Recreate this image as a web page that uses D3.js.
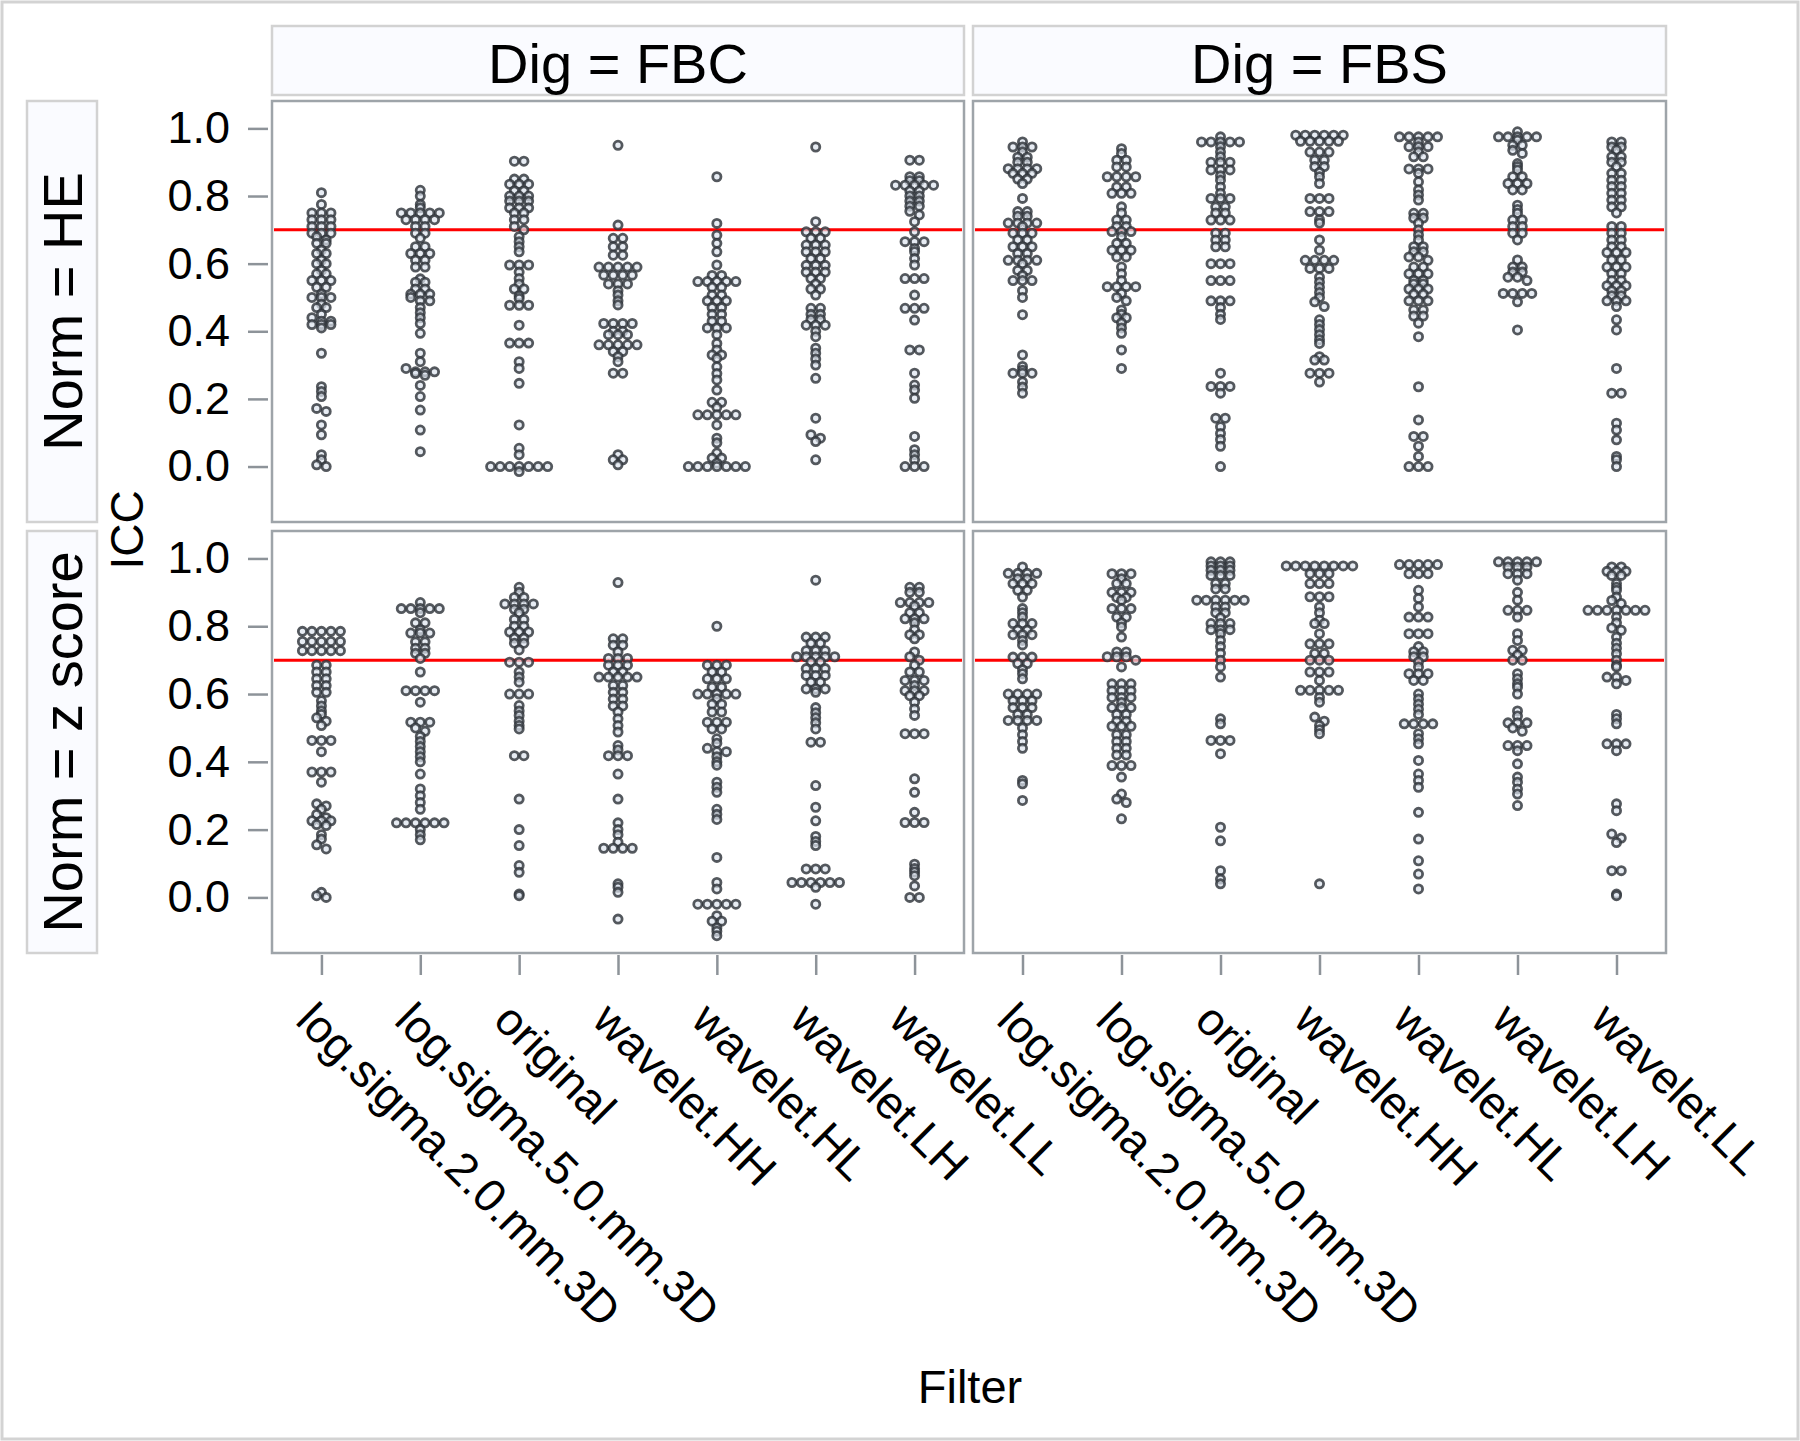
<!DOCTYPE html>
<html><head><meta charset="utf-8">
<script src="https://cdn.jsdelivr.net/npm/d3@7"></script>
<style>
body{margin:0;background:#fff}
text{font-family:"Liberation Sans",Arial,Helvetica,sans-serif;fill:#000}
</style>
</head><body>
<svg id="chart" width="1800" height="1441"></svg>
<script>
// ---------------- DATA ----------------
const filters = ["log.sigma.2.0.mm.3D","log.sigma.5.0.mm.3D","original","wavelet.HH","wavelet.HL","wavelet.LH","wavelet.LL"];
const digLevels = ["FBC","FBS"];
const normLevels = ["HE","z score"];
const yTicks = [0.0,0.2,0.4,0.6,0.8,1.0];
const threshold = 0.7;

// ICC values, one list per filter (order as in `filters`)
const iccHE_FBC = [
 [0.81,0.775,0.75,0.75,0.75,0.73,0.73,0.73,0.71,0.71,0.71,0.69,0.69,0.69,0.68,0.67,0.66,0.66,0.64,0.63,0.63,0.61,0.60,0.60,0.58,0.57,0.57,0.55,0.55,0.55,0.53,0.53,0.51,0.50,0.50,0.50,0.48,0.47,0.47,0.45,0.44,0.43,0.43,0.42,0.42,0.42,0.41,0.335,0.236,0.222,0.207,0.172,0.163,0.123,0.094,0.035,0.02,0.005,0.0],
 [0.817,0.80,0.775,0.765,0.75,0.75,0.75,0.75,0.75,0.73,0.73,0.73,0.73,0.71,0.71,0.69,0.69,0.675,0.65,0.65,0.63,0.63,0.63,0.61,0.61,0.59,0.59,0.555,0.545,0.545,0.525,0.525,0.51,0.51,0.51,0.50,0.49,0.49,0.47,0.455,0.44,0.423,0.394,0.335,0.31,0.29,0.28,0.28,0.28,0.275,0.27,0.24,0.207,0.167,0.108,0.044],
 [0.903,0.903,0.85,0.85,0.835,0.835,0.835,0.815,0.815,0.80,0.80,0.80,0.785,0.785,0.785,0.765,0.765,0.765,0.75,0.75,0.73,0.73,0.71,0.70,0.68,0.665,0.65,0.635,0.596,0.596,0.596,0.575,0.556,0.54,0.525,0.525,0.505,0.497,0.477,0.477,0.477,0.418,0.365,0.365,0.365,0.31,0.29,0.246,0.123,0.054,0.035,0.0,0.0,0.0,0.0,0.0,0.0,0.0,-0.015],
 [0.95,0.714,0.675,0.675,0.65,0.65,0.625,0.625,0.59,0.59,0.59,0.59,0.59,0.566,0.566,0.566,0.566,0.54,0.54,0.54,0.52,0.507,0.49,0.478,0.423,0.423,0.423,0.423,0.40,0.40,0.39,0.39,0.39,0.36,0.36,0.36,0.36,0.36,0.34,0.34,0.325,0.31,0.276,0.276,0.035,0.02,0.02,0.005],
 [0.857,0.719,0.684,0.66,0.635,0.596,0.565,0.565,0.547,0.547,0.547,0.547,0.547,0.53,0.53,0.507,0.507,0.49,0.49,0.49,0.47,0.47,0.45,0.45,0.43,0.43,0.41,0.41,0.41,0.39,0.364,0.345,0.33,0.33,0.32,0.295,0.275,0.256,0.226,0.19,0.19,0.175,0.153,0.153,0.153,0.153,0.153,0.123,0.084,0.07,0.04,0.025,0.025,0.01,0.0,0.0,0.0,0.0,0.0,0.0,0.0],
 [0.945,0.724,0.694,0.694,0.694,0.675,0.675,0.655,0.655,0.655,0.635,0.635,0.635,0.615,0.615,0.595,0.595,0.595,0.575,0.575,0.575,0.556,0.556,0.54,0.525,0.525,0.507,0.468,0.468,0.45,0.45,0.435,0.435,0.418,0.418,0.418,0.40,0.384,0.35,0.335,0.318,0.30,0.261,0.143,0.094,0.084,0.074,0.02],
 [0.906,0.906,0.857,0.857,0.845,0.845,0.832,0.832,0.832,0.832,0.832,0.815,0.815,0.80,0.80,0.785,0.785,0.77,0.77,0.755,0.744,0.724,0.694,0.665,0.665,0.665,0.645,0.635,0.615,0.596,0.556,0.556,0.556,0.507,0.468,0.468,0.468,0.433,0.345,0.345,0.276,0.241,0.226,0.202,0.089,0.05,0.035,0.02,0.0,0.0,0.0]
];
const iccZ_FBC = [
 [0.785,0.785,0.785,0.785,0.785,0.755,0.755,0.755,0.755,0.755,0.728,0.728,0.728,0.728,0.728,0.685,0.685,0.665,0.665,0.645,0.645,0.625,0.625,0.605,0.605,0.58,0.565,0.55,0.54,0.53,0.52,0.507,0.463,0.463,0.463,0.43,0.37,0.37,0.37,0.34,0.276,0.27,0.26,0.245,0.235,0.226,0.226,0.226,0.215,0.212,0.185,0.172,0.155,0.143,0.015,0.005,0.0],
 [0.87,0.852,0.852,0.852,0.852,0.852,0.84,0.81,0.81,0.79,0.78,0.78,0.78,0.754,0.754,0.735,0.735,0.72,0.72,0.705,0.665,0.61,0.61,0.61,0.61,0.576,0.517,0.517,0.517,0.50,0.49,0.475,0.46,0.445,0.43,0.415,0.40,0.364,0.32,0.30,0.28,0.26,0.22,0.22,0.22,0.22,0.22,0.22,0.20,0.185,0.17],
 [0.915,0.90,0.885,0.885,0.866,0.866,0.866,0.866,0.85,0.85,0.84,0.82,0.82,0.80,0.80,0.783,0.783,0.783,0.765,0.765,0.75,0.75,0.73,0.694,0.694,0.694,0.665,0.65,0.635,0.60,0.60,0.60,0.566,0.55,0.537,0.52,0.507,0.497,0.418,0.418,0.29,0.20,0.153,0.094,0.074,0.01,0.005],
 [0.929,0.763,0.763,0.744,0.744,0.724,0.705,0.705,0.705,0.685,0.685,0.685,0.665,0.665,0.65,0.65,0.65,0.65,0.65,0.625,0.625,0.605,0.605,0.585,0.585,0.565,0.565,0.547,0.527,0.507,0.488,0.448,0.435,0.418,0.418,0.418,0.364,0.29,0.22,0.20,0.185,0.163,0.145,0.145,0.145,0.145,0.04,0.03,0.015,-0.064],
 [0.80,0.685,0.685,0.685,0.665,0.665,0.645,0.645,0.645,0.62,0.62,0.60,0.60,0.60,0.60,0.60,0.586,0.57,0.57,0.547,0.547,0.517,0.517,0.517,0.497,0.497,0.468,0.455,0.44,0.43,0.43,0.415,0.40,0.39,0.34,0.325,0.31,0.26,0.245,0.23,0.118,0.044,0.025,-0.02,-0.02,-0.02,-0.02,-0.02,-0.054,-0.07,-0.07,-0.09,-0.10,-0.113],
 [0.936,0.768,0.768,0.768,0.75,0.75,0.728,0.728,0.728,0.71,0.71,0.71,0.71,0.71,0.695,0.695,0.675,0.675,0.675,0.655,0.655,0.655,0.635,0.635,0.615,0.615,0.615,0.605,0.56,0.545,0.53,0.515,0.497,0.458,0.458,0.33,0.266,0.226,0.18,0.165,0.153,0.084,0.084,0.084,0.044,0.044,0.044,0.044,0.044,0.044,0.03,-0.02],
 [0.915,0.915,0.90,0.90,0.87,0.87,0.87,0.87,0.86,0.84,0.84,0.822,0.822,0.822,0.81,0.79,0.775,0.775,0.763,0.724,0.71,0.70,0.685,0.665,0.665,0.64,0.64,0.64,0.625,0.61,0.61,0.61,0.595,0.595,0.576,0.556,0.537,0.483,0.483,0.483,0.35,0.31,0.251,0.221,0.221,0.221,0.098,0.085,0.075,0.064,0.034,0.0,0.0]
];
const iccHE_FBS = [
 [0.96,0.945,0.945,0.945,0.93,0.915,0.915,0.90,0.90,0.881,0.881,0.881,0.881,0.867,0.867,0.867,0.85,0.85,0.837,0.793,0.754,0.754,0.74,0.74,0.72,0.72,0.72,0.72,0.71,0.69,0.69,0.69,0.67,0.67,0.65,0.65,0.65,0.63,0.63,0.61,0.61,0.61,0.61,0.60,0.58,0.58,0.565,0.55,0.55,0.55,0.52,0.50,0.449,0.33,0.296,0.285,0.276,0.276,0.276,0.25,0.235,0.217],
 [0.94,0.926,0.906,0.906,0.886,0.886,0.857,0.857,0.857,0.857,0.827,0.827,0.808,0.808,0.808,0.768,0.75,0.729,0.729,0.71,0.71,0.695,0.695,0.695,0.68,0.66,0.66,0.64,0.64,0.64,0.62,0.62,0.59,0.57,0.55,0.532,0.532,0.532,0.532,0.512,0.50,0.49,0.463,0.45,0.44,0.44,0.425,0.41,0.394,0.345,0.29],
 [0.975,0.96,0.96,0.96,0.96,0.96,0.946,0.93,0.916,0.90,0.90,0.90,0.877,0.877,0.877,0.86,0.847,0.827,0.808,0.793,0.793,0.793,0.768,0.768,0.75,0.75,0.729,0.729,0.729,0.69,0.69,0.67,0.67,0.65,0.65,0.60,0.60,0.60,0.55,0.55,0.55,0.49,0.49,0.49,0.47,0.45,0.435,0.276,0.237,0.237,0.237,0.217,0.143,0.143,0.118,0.098,0.08,0.06,0.0],
 [0.98,0.98,0.98,0.98,0.98,0.98,0.962,0.962,0.962,0.962,0.962,0.93,0.93,0.93,0.906,0.906,0.887,0.887,0.87,0.857,0.837,0.793,0.793,0.793,0.754,0.754,0.754,0.73,0.72,0.67,0.64,0.61,0.61,0.61,0.61,0.586,0.586,0.586,0.56,0.545,0.53,0.515,0.50,0.487,0.473,0.434,0.42,0.405,0.39,0.375,0.364,0.325,0.315,0.315,0.276,0.276,0.276,0.25],
 [0.975,0.975,0.975,0.975,0.975,0.96,0.946,0.946,0.946,0.93,0.916,0.916,0.88,0.88,0.88,0.867,0.842,0.818,0.803,0.788,0.749,0.749,0.735,0.735,0.72,0.70,0.685,0.67,0.65,0.65,0.635,0.635,0.62,0.62,0.61,0.59,0.59,0.57,0.57,0.57,0.55,0.55,0.54,0.54,0.525,0.525,0.525,0.51,0.51,0.49,0.49,0.49,0.463,0.463,0.445,0.445,0.424,0.384,0.236,0.138,0.089,0.089,0.06,0.03,0.0,0.0,0.0],
 [0.99,0.975,0.975,0.975,0.975,0.975,0.965,0.95,0.95,0.935,0.926,0.896,0.887,0.877,0.857,0.857,0.837,0.837,0.837,0.818,0.818,0.773,0.76,0.749,0.729,0.729,0.71,0.71,0.69,0.69,0.67,0.611,0.59,0.59,0.575,0.575,0.56,0.56,0.55,0.512,0.512,0.512,0.512,0.487,0.404],
 [0.96,0.96,0.945,0.945,0.936,0.916,0.916,0.90,0.90,0.887,0.867,0.867,0.847,0.847,0.828,0.828,0.808,0.808,0.788,0.788,0.768,0.768,0.75,0.71,0.71,0.69,0.69,0.67,0.67,0.65,0.65,0.633,0.633,0.633,0.611,0.611,0.59,0.59,0.59,0.571,0.571,0.55,0.55,0.535,0.535,0.535,0.52,0.52,0.505,0.505,0.49,0.49,0.49,0.473,0.434,0.404,0.29,0.217,0.217,0.128,0.108,0.079,0.03,0.02,0.0]
];
const iccZ_FBS = [
 [0.975,0.956,0.956,0.956,0.956,0.94,0.94,0.926,0.926,0.926,0.906,0.906,0.886,0.852,0.84,0.827,0.808,0.808,0.808,0.788,0.788,0.775,0.775,0.775,0.758,0.745,0.709,0.709,0.709,0.69,0.69,0.672,0.66,0.645,0.60,0.60,0.60,0.60,0.58,0.58,0.58,0.56,0.56,0.56,0.54,0.54,0.522,0.522,0.522,0.522,0.50,0.48,0.46,0.44,0.345,0.335,0.286],
 [0.955,0.955,0.955,0.94,0.926,0.926,0.90,0.90,0.90,0.885,0.885,0.877,0.852,0.852,0.852,0.827,0.827,0.81,0.798,0.768,0.724,0.724,0.71,0.71,0.71,0.70,0.68,0.63,0.63,0.63,0.61,0.61,0.61,0.59,0.59,0.59,0.575,0.56,0.56,0.56,0.54,0.54,0.52,0.52,0.505,0.505,0.505,0.48,0.48,0.46,0.46,0.44,0.44,0.42,0.42,0.389,0.389,0.389,0.355,0.305,0.29,0.28,0.232],
 [0.99,0.99,0.99,0.978,0.978,0.978,0.965,0.965,0.965,0.95,0.95,0.95,0.926,0.926,0.91,0.91,0.877,0.877,0.877,0.877,0.877,0.877,0.857,0.857,0.84,0.84,0.825,0.808,0.808,0.808,0.79,0.79,0.79,0.778,0.758,0.74,0.72,0.70,0.68,0.65,0.527,0.512,0.463,0.463,0.463,0.424,0.207,0.167,0.079,0.054,0.04],
 [0.978,0.978,0.978,0.978,0.978,0.978,0.978,0.978,0.955,0.955,0.955,0.926,0.926,0.926,0.887,0.887,0.887,0.857,0.84,0.818,0.808,0.808,0.778,0.748,0.748,0.748,0.72,0.72,0.70,0.70,0.70,0.665,0.665,0.665,0.64,0.611,0.611,0.611,0.611,0.611,0.59,0.576,0.532,0.52,0.507,0.495,0.483,0.04],
 [0.982,0.982,0.982,0.982,0.982,0.955,0.955,0.955,0.906,0.882,0.857,0.827,0.827,0.827,0.778,0.778,0.778,0.74,0.725,0.725,0.71,0.71,0.695,0.68,0.66,0.66,0.66,0.64,0.64,0.60,0.585,0.57,0.555,0.54,0.512,0.512,0.512,0.512,0.483,0.468,0.453,0.404,0.364,0.345,0.325,0.251,0.172,0.108,0.069,0.025],
 [0.99,0.99,0.99,0.99,0.99,0.975,0.975,0.975,0.955,0.955,0.955,0.936,0.90,0.877,0.847,0.847,0.847,0.827,0.778,0.758,0.729,0.729,0.715,0.70,0.70,0.66,0.645,0.63,0.62,0.60,0.55,0.535,0.515,0.515,0.515,0.50,0.49,0.448,0.448,0.448,0.433,0.394,0.355,0.34,0.32,0.305,0.271],
 [0.975,0.975,0.962,0.962,0.962,0.95,0.95,0.926,0.915,0.906,0.886,0.876,0.867,0.847,0.847,0.847,0.847,0.847,0.847,0.847,0.827,0.81,0.795,0.788,0.768,0.75,0.735,0.719,0.70,0.685,0.68,0.65,0.65,0.64,0.63,0.54,0.527,0.512,0.453,0.453,0.453,0.433,0.276,0.256,0.187,0.175,0.162,0.079,0.079,0.01,0.005]
];
const panelData = {"HE":{"FBC":iccHE_FBC,"FBS":iccHE_FBS},"z score":{"FBC":iccZ_FBC,"FBS":iccZ_FBS}};

// ---------------- LAYOUT ----------------
const svg = d3.select("#chart");
const colX = {"FBC":[272,964],"FBS":[973,1666]};
const rowY = {"HE":[101,522],"z score":[531,953]};
const yDomain = [-0.164,1.081];
const stripFill = "#fafbff", stripStroke = "#d2d2d2", panelStroke = "#9ea4a9", tickColor = "#8d9399";
const dotDiam = 9.5, binSize = 0.015;

svg.append("rect").attr("x",0).attr("y",0).attr("width",1800).attr("height",1441).attr("fill","#fff");
svg.append("rect").attr("x",2).attr("y",2).attr("width",1796).attr("height",1437)
  .attr("fill","none").attr("stroke","#d3d3d3").attr("stroke-width",3);

// column headers
digLevels.forEach(dig=>{
  const [x0,x1]=colX[dig];
  svg.append("rect").attr("x",x0).attr("y",26).attr("width",x1-x0).attr("height",69)
    .attr("fill",stripFill).attr("stroke",stripStroke).attr("stroke-width",2.5);
  svg.append("text").attr("x",(x0+x1)/2).attr("y",83).attr("text-anchor","middle")
    .attr("font-size",56).text("Dig = "+dig);
});
// row strips
normLevels.forEach(norm=>{
  const [y0,y1]=rowY[norm];
  svg.append("rect").attr("x",27).attr("y",y0).attr("width",70).attr("height",y1-y0)
    .attr("fill",stripFill).attr("stroke",stripStroke).attr("stroke-width",2.5);
  svg.append("text").attr("transform",`translate(82,${(y0+y1)/2}) rotate(-90)`)
    .attr("text-anchor","middle").attr("font-size",56).text("Norm = "+norm);
});

normLevels.forEach(norm=>{
  const [y0,y1]=rowY[norm];
  const y = d3.scaleLinear().domain(yDomain).range([y1,y0]);
  // y axis
  const ax = svg.append("g").attr("transform",`translate(268,0)`)
    .call(d3.axisLeft(y).tickValues(yTicks).tickFormat(d3.format(".1f")).tickSize(20).tickPadding(18));
  ax.select(".domain").remove();
  ax.selectAll(".tick line").attr("stroke",tickColor).attr("stroke-width",2.5);
  ax.selectAll(".tick text").attr("font-size",45).attr("font-family","Liberation Sans, Arial, sans-serif").attr("fill","#000");

  digLevels.forEach(dig=>{
    const [x0,x1]=colX[dig];
    const x = d3.scalePoint().domain(filters).range([x0,x1]).padding(0.5);
    const g = svg.append("g");
    g.append("rect").attr("x",x0).attr("y",y0).attr("width",x1-x0).attr("height",y1-y0)
      .attr("fill","#fff").attr("stroke",panelStroke).attr("stroke-width",2.5);
    // threshold line
    g.append("line").attr("x1",x0+2).attr("x2",x1-2).attr("y1",y(threshold)).attr("y2",y(threshold))
      .attr("stroke","#ff0000").attr("stroke-width",3);
    // points (binned swarm)
    const cols = panelData[norm][dig];
    filters.forEach((f,i)=>{
      const vals = cols[i];
      const bins = d3.group(vals.map((v,j)=>({v,j})), d=>Math.round(d.v/binSize));
      const pts=[];
      bins.forEach(arr=>{
        const n=arr.length;
        arr.forEach((d,k)=>pts.push({v:d.v, dx:(k-(n-1)/2)*dotDiam}));
      });
      g.append("g").selectAll("circle").data(pts).join("circle")
        .attr("cx",d=>x(f)+d.dx).attr("cy",d=>y(d.v)).attr("r",4.1)
        .attr("fill","#dde4ee").attr("fill-opacity",0.7)
        .attr("stroke","#2f343b").attr("stroke-opacity",0.82).attr("stroke-width",2.8);
    });
    // x axis ticks + labels (bottom row only)
    if(norm==="z score"){
      const xa = svg.append("g").attr("transform",`translate(0,955)`)
        .call(d3.axisBottom(x).tickSize(20).tickFormat(""));
      xa.select(".domain").remove();
      xa.selectAll(".tick line").attr("stroke",tickColor).attr("stroke-width",2.5);
      filters.forEach(f=>{
        svg.append("text").attr("transform",`translate(${x(f)-4},999) rotate(45)`)
          .attr("dy","0.72em").attr("font-size",46).text(f);
      });
    }
  });
});

svg.append("text").attr("transform","translate(143,530) rotate(-90)").attr("text-anchor","middle")
  .attr("font-size",46).text("ICC");
svg.append("text").attr("x",970).attr("y",1403).attr("text-anchor","middle").attr("font-size",47).text("Filter");
</script>
</body></html>
